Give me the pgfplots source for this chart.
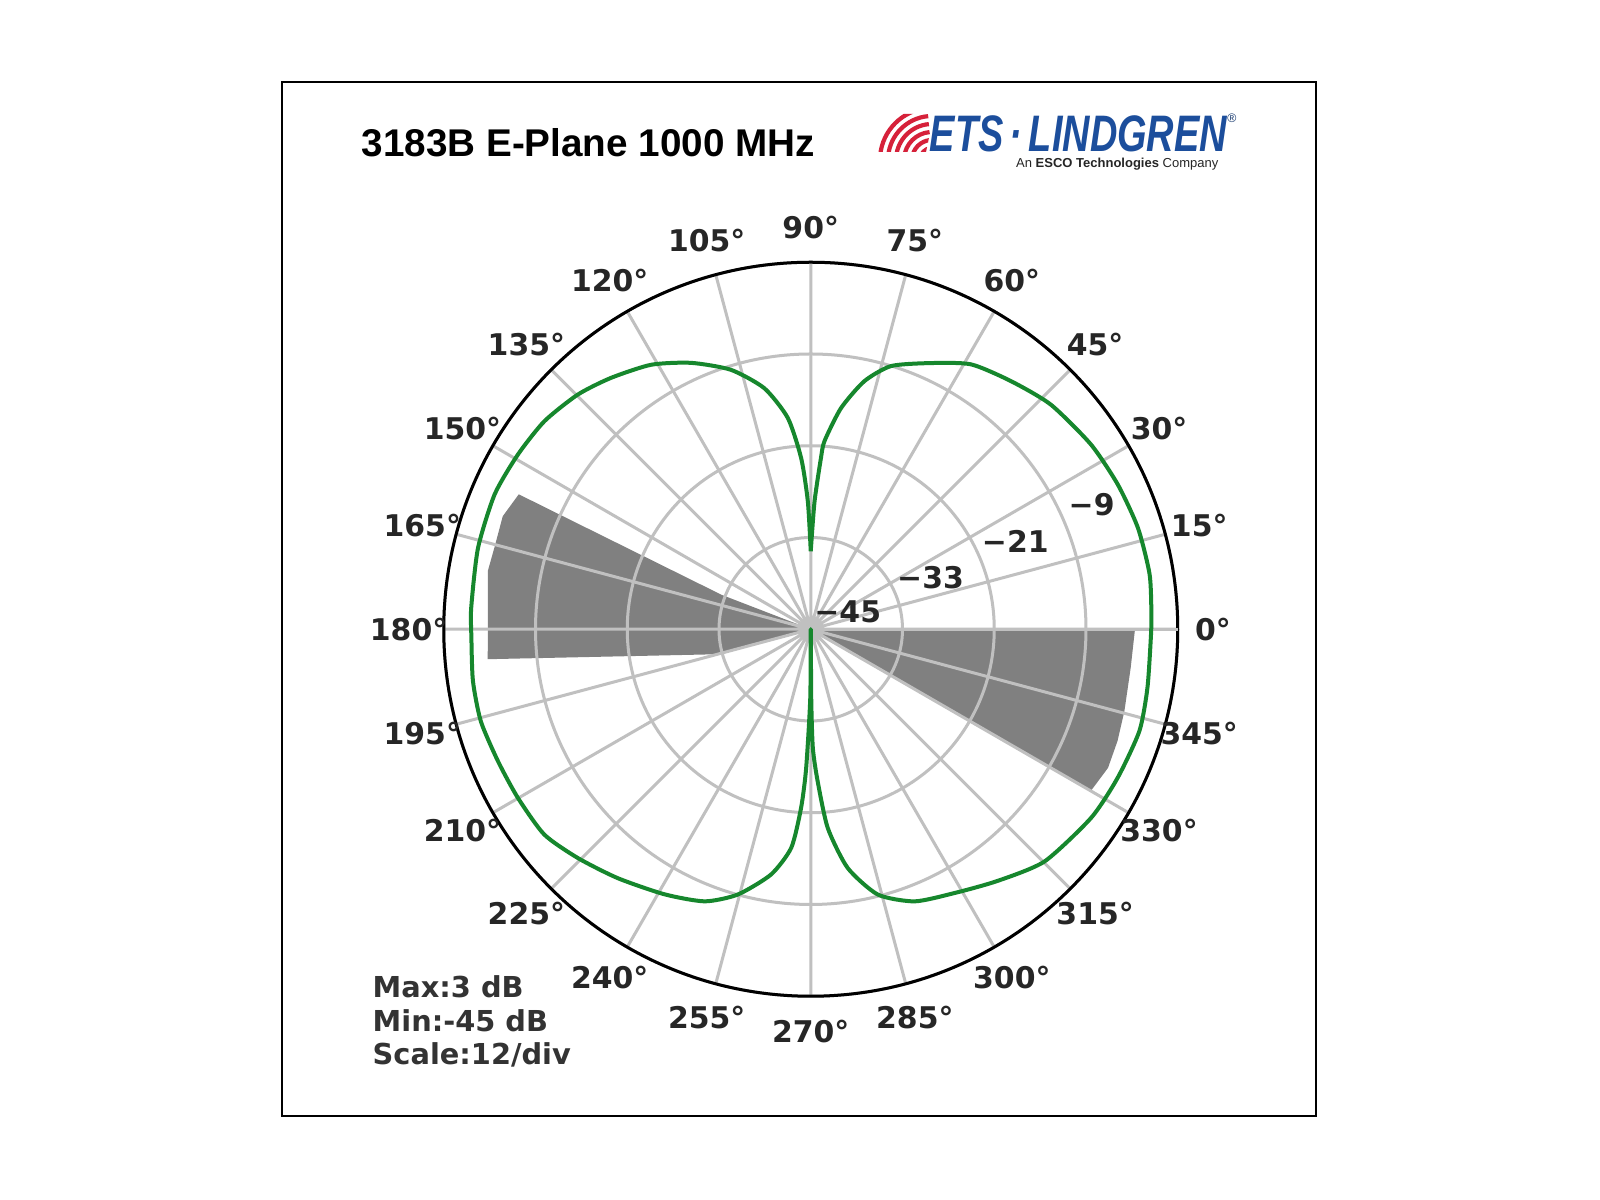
\documentclass[border=0pt]{standalone}
\usepackage{pgfplots}
\pgfplotsset{compat=1.18}
\usepgfplotslibrary{polar}
\usepackage{pgfplotstable}
\usepackage{graphicx}
\usepackage{fontspec}
\setmainfont{DejaVu Sans}
\newfontfamily\arialfont{Liberation Sans}
\definecolor{gridgray}{RGB}{192,192,192}
\definecolor{wedgegray}{RGB}{128,128,128}
\definecolor{patgreen}{RGB}{22,135,45}
\definecolor{etsblue}{RGB}{28,78,156}
\definecolor{etsred}{RGB}{214,33,58}

% E-plane pattern: angle (deg), level (dB)
\pgfplotstableread{
angle db
90 -34.8
88.3 -28.3
86.6 -22.6
85.8 -20.3
82.2 -15.8
77.8 -11.8
73.0 -9.0
65.7 -6.8
58.8 -4.5
51.1 -3.3
43.1 -2.0
33.4 -1.1
25.2 -0.6
17.2 -0.2
9.2 -0.1
2.5 -0.4
-1.3 -0.5
-9.9 -0.3
-17.2 0.0
-25.8 -0.4
-33.9 -0.8
-44.8 -1.9
-53.4 -4.0
-61.4 -5.7
-69.1 -6.9
-75.8 -9.2
-81.2 -13.4
-85.1 -18.9
-87.4 -25.1
-89.0 -29.5
-89.6 -36.0
-90 -45
-90.4 -36.0
-91.9 -26.8
-93.1 -21.6
-95.1 -16.3
-99.2 -12.5
-105.4 -9.0
-111.3 -6.8
-118.9 -5.4
-127.8 -3.8
-135.5 -2.3
-142.4 -1.0
-150.1 -0.8
-157.1 -0.6
-164.4 -0.2
-171.3 -0.3
-178.7 -0.6
-183.6 -0.5
-193.7 -0.2
-203.1 -0.05
-210.8 -0.4
-218.0 -0.8
-225.2 -1.75
-231.5 -3.0
-238.9 -4.6
-245.8 -6.8
-252.9 -9.5
-259.1 -12.9
-263.8 -17.2
-266.8 -22.6
-268.7 -28.3
-270 -34.8
}\patterndata

\pgfplotstableread{
angle db
160.5 -45
158.9 -32.5
155.2 -2.93
159.85 -2.09
165.3 -2.27
169.8 -2.08
185.3 -2.57
195.5 -32.8
200 -45
}\leftwedge

\pgfplotstableread{
angle db
0 -45
-0.35 -2.62
-6.9 -2.85
-14.65 -2.6
-20.0 -2.3
-25.0 -2.1
-30.0 -2.7
-30.5 -45
}\rightwedge

\begin{document}
\begin{tikzpicture}[x=0.1mm,y=0.1mm]
\fill[white] (0,0) rectangle (1600,1200);
\path[use as bounding box] (0,0) rectangle (1600,1200);
\draw[black, line width=0.2mm] (282,84) rectangle (1316,1118);

% title
\node[anchor=base west, inner sep=0, font=\arialfont\bfseries\fontsize{11}{13}\selectfont] at (361,1043) {3183B E-Plane 1000 MHz};

% logo
\begin{scope}
\clip (880,1086) -- (934,1086) -- (926,1048) -- (872,1048) -- cycle;
\foreach \r in {12,20,28,36,44,52} {
  \draw[etsred, line width=0.42mm] (932,1040) ++(95:\r) arc[start angle=95, end angle=175, radius=\r];
}
\end{scope}
\node[anchor=base west, inner sep=0, text=etsblue, font=\arialfont\bfseries\itshape\fontsize{14.6}{16}\selectfont] at (929,1048.3) {\scalebox{0.74}[1]{ETS\,·\,LINDGREN}};
\node[anchor=center, inner sep=0, text=etsblue!70!black, font=\arialfont\fontsize{3.5}{4}\selectfont] at (1232,1082) {®};
\node[anchor=base east, inner sep=0, text=black!85, font=\arialfont\fontsize{3.7}{4.5}\selectfont] at (1219,1032.5) {An \textbf{ESCO Technologies} Company};

% info text
\node[anchor=base west, inner sep=0, font=\bfseries\fontsize{8.2}{10}\selectfont, text=black!80] at (372,202) {Max:3 dB};
\node[anchor=base west, inner sep=0, font=\bfseries\fontsize{8.2}{10}\selectfont, text=black!80] at (372,168) {Min:-45 dB};
\node[anchor=base west, inner sep=0, font=\bfseries\fontsize{8.2}{10}\selectfont, text=black!80] at (372,135) {Scale:12/div};

% underlying axis: gray sectors
\begin{polaraxis}[
  at={(580.4,266.5)},
  scale only axis, width=73.4mm, height=73.4mm,
  xmin=0, xmax=360, ymin=0, ymax=48,
  hide axis,
]
\addplot[fill=wedgegray, draw=none] table[x=angle, y expr=\thisrow{db}+45] {\leftwedge};
\addplot[fill=wedgegray, draw=none] table[x=angle, y expr=\thisrow{db}+45] {\rightwedge};
\end{polaraxis}

% main axis: grid and pattern
\begin{polaraxis}[
  at={(580.4,266.5)},
  scale only axis, width=73.4mm, height=73.4mm,
  xmin=0, xmax=360, ymin=0, ymax=48,
  xtick={0,15,...,345}, ytick={12,24,36,48},
  xticklabels={}, yticklabels={},
  grid=major,
  major grid style={gridgray, line width=0.3mm},
  tick style={draw=none},
  x axis line style={black, line width=0.3mm},
  y axis line style={gridgray, line width=0.3mm},
  clip=false,
]
\addplot[patgreen, line width=0.4mm, line join=round, smooth, tension=0.4] table[x=angle, y expr=\thisrow{db}+45] {\patterndata};

\pgfplotsinvokeforeach{0,15,...,345}{
  \node[font=\bfseries\fontsize{8.5}{10}\selectfont, text=black!85, inner sep=0] at (axis cs:#1,52.6) {#1°};
}
\node[anchor=south west, inner sep=0, xshift=0.3mm, yshift=0.6mm, font=\bfseries\fontsize{8.5}{10}\selectfont, text=black!85] at (axis cs:22.5,0) {−45};
\node[anchor=south west, inner sep=0, xshift=0.1mm, yshift=0.5mm, font=\bfseries\fontsize{8.5}{10}\selectfont, text=black!85] at (axis cs:22.5,12) {−33};
\node[anchor=south west, inner sep=0, xshift=0.1mm, yshift=0.6mm, font=\bfseries\fontsize{8.5}{10}\selectfont, text=black!85] at (axis cs:22.5,24) {−21};
\node[anchor=south west, inner sep=0, xshift=0.3mm, yshift=0.7mm, font=\bfseries\fontsize{8.5}{10}\selectfont, text=black!85] at (axis cs:22.5,36) {−9};
\end{polaraxis}
\end{tikzpicture}
\end{document}
